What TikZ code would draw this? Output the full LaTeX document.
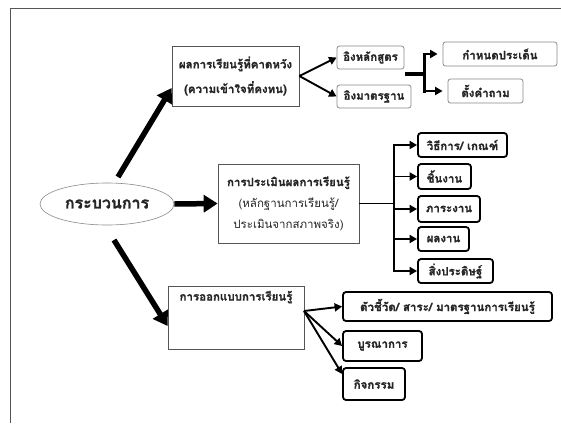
\documentclass[tikz,border=0pt]{standalone}
\usepackage{fontspec}
\newfontfamily\thai[Script=Thai, BoldFeatures={FakeBold=1.2}]{Loma}
\usetikzlibrary{arrows.meta,shapes.geometric}
\definecolor{edgegray}{HTML}{555555}
\definecolor{softgray}{HTML}{8A8A8A}
\tikzset{
  every node/.style={font=\thai\bfseries\fontsize{11.5}{14}\selectfont, text=black!85, inner sep=0pt},
  plainbox/.style={draw=edgegray, line width=0.7pt, rectangle, align=center},
  softbox/.style={draw=softgray, line width=0.8pt, rounded corners=2.5pt, align=center},
  boldbox/.style={draw=black, line width=1.8pt, rounded corners=3pt, align=center},
  ovalbox/.style={draw=softgray, line width=0.6pt, ellipse},
  bigarrow/.style={line width=5.5pt, -{Triangle[length=14pt,width=17pt]}},
  midarrow/.style={line width=1.9pt, -{Triangle[length=7.5pt,width=8pt]}},
  brkline/.style={line width=3.5pt},
  frameline/.style={draw=edgegray, line width=0.8pt}
}
\begin{document}
\begin{tikzpicture}[x=1pt,y=-1pt]
\useasboundingbox (0,0) rectangle (561,423);
\fill[white] (0,0) rectangle (561,423);
% frame
\draw[frameline] (10,423) -- (10,8) -- (561,8);

% centre ellipse
\node[ovalbox, minimum width=134pt, minimum height=42pt, font=\thai\bfseries\fontsize{16}{18}\selectfont] (e) at (107,204) {กระบวนการ};

% top branch
\node[plainbox, minimum width=127pt, minimum height=60pt] (box1) at (235.5,76)
  {ผลการเรียนรู้ที่คาดหวัง\\[9pt](ความเข้าใจที่คงทน)};
\node[softbox, minimum width=67pt, minimum height=23pt] (t1) at (370.5,57.5) {อิงหลักสูตร};
\node[softbox, minimum width=74pt, minimum height=23pt] (t2) at (374,96.5) {อิงมาตรฐาน};
\node[softbox, minimum width=114pt, minimum height=24pt] (t3) at (500,54) {กำหนดประเด็น};
\node[softbox, minimum width=75pt, minimum height=24pt] (t4) at (485.5,91) {ตั้งคำถาม};

% middle branch
\node[plainbox, minimum width=141pt, minimum height=79pt] (box2) at (288.5,203.5)
  {การประเมินผลการเรียนรู้\\[7pt]{\mdseries (หลักฐานการเรียนรู้/}\\[7pt]{\mdseries ประเมินจากสภาพจริง)}};
\node[boldbox, minimum width=89pt, minimum height=24pt] (r1) at (462.5,145) {วิธีการ/ เกณฑ์};
\node[boldbox, minimum width=53pt, minimum height=25pt] (r2) at (444.5,176.5) {ชิ้นงาน};
\node[boldbox, minimum width=62pt, minimum height=26pt] (r3) at (449,209) {ภาระงาน};
\node[boldbox, minimum width=51pt, minimum height=24pt] (r4) at (443.5,239) {ผลงาน};
\node[boldbox, minimum width=75pt, minimum height=24pt] (r5) at (455.5,271) {สิ่งประดิษฐ์};

% bottom branch
\node[plainbox, minimum width=136pt, minimum height=63pt] (box3) at (236,317.5) {};
\node[anchor=north] (box3t) at ([yshift=-5pt]box3.north) {การออกแบบการเรียนรู้};
\node[boldbox, minimum width=209pt, minimum height=29pt] (b1) at (447.5,306.5) {ตัวชี้วัด/ สาระ/ มาตรฐานการเรียนรู้};
\node[boldbox, minimum width=79pt, minimum height=30pt] (b2) at (382.5,346) {บูรณาการ};
\node[boldbox, minimum width=62pt, minimum height=32pt] (b3) at (374,384) {กิจกรรม};

% big arrows from centre
\coordinate (u0) at (118,177);
\coordinate (d0) at (114,240);
\draw[bigarrow] (u0) -- ([yshift=-12pt]box1.west);
\draw[bigarrow] (e.east) -- (box2.west);
\draw[bigarrow] (d0) -- ([yshift=-8.5pt]box3.west);

% top branch connectors
\draw[midarrow] (box1.east) -- (t1.west);
\draw[midarrow] (box1.east) -- (t2.west);
\coordinate (bj) at (405,74);
\coordinate (bv) at (424,74);
\draw[brkline] (bj) -- (bv);
\draw[line width=3pt] ([yshift=1.5pt]bv |- t3.west) -- ([yshift=-1.5pt]bv |- t4.west);
\draw[midarrow] (bv |- t3.west) -- ([xshift=-5pt]t3.west);
\draw[midarrow] (bv |- t4.west) -- ([xshift=-5pt]t4.west);

% middle branch connectors
\coordinate (tv) at (394,203.5);
\draw[line width=1.9pt] (box2.east) -- (tv);
\foreach \r in {r1,r2,r3,r4,r5}{
  \draw[midarrow] (tv) |- (\r.west);
}

% bottom branch connectors
\coordinate (fan) at (304,311);
\draw[midarrow] (fan) -- (b1.west);
\draw[midarrow] (fan) -- (b2.west);
\draw[midarrow] (fan) -- ([yshift=10pt]b3.west);
\end{tikzpicture}
\end{document}
